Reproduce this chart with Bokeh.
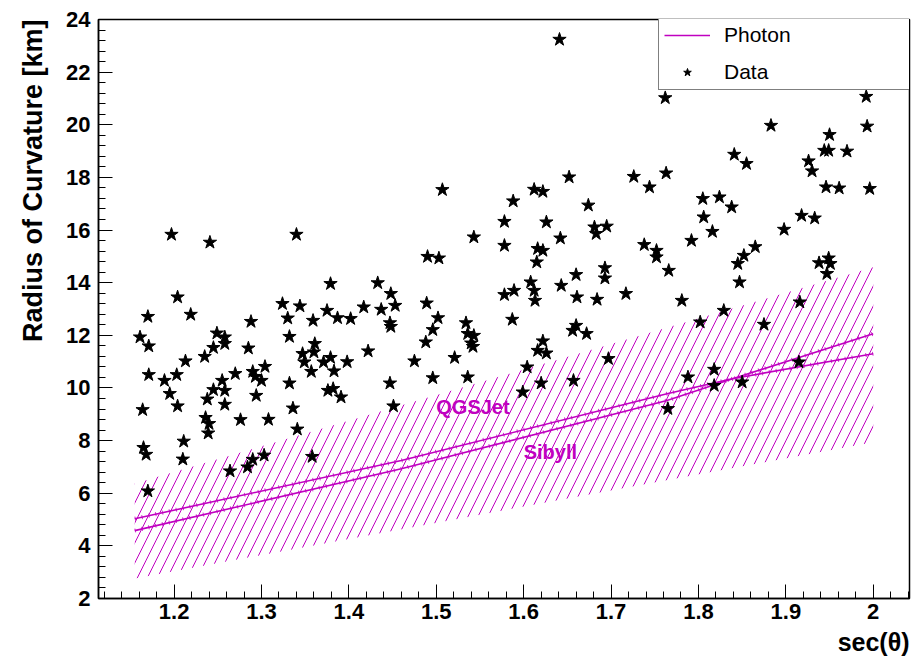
from bokeh.embed import file_html
from bokeh.models import FixedTicker, Label, Legend, LegendItem, Range1d, Title
from bokeh.plotting import figure
from bokeh.resources import INLINE

# --- measured showers: sec(theta) and fitted radius of curvature [km] ---
sec_theta = [
    1.507, 1.197, 1.241, 1.340, 1.490, 1.503, 1.543, 1.578, 1.578, 1.578,
    1.204, 1.170, 1.219, 1.161, 1.171, 1.171, 1.189, 1.203, 1.213, 1.195,
    1.204, 1.164, 1.165, 1.168, 1.211, 1.210, 1.249, 1.258, 1.258, 1.245,
    1.235, 1.255, 1.245, 1.258, 1.238, 1.258, 1.270, 1.236, 1.240, 1.239,
    1.276, 1.308, 1.288, 1.285, 1.304, 1.290, 1.293, 1.300, 1.294, 1.264,
    1.284, 1.290, 1.303, 1.358, 1.341, 1.336, 1.332, 1.332, 1.330, 1.324,
    1.344, 1.359, 1.375, 1.387, 1.402, 1.379, 1.417, 1.433, 1.437, 1.448,
    1.453, 1.447, 1.448, 1.361, 1.360, 1.347, 1.349, 1.357, 1.371, 1.379,
    1.383, 1.398, 1.376, 1.382, 1.391, 1.422, 1.447, 1.451, 1.475, 1.489,
    1.502, 1.496, 1.488, 1.496, 1.521, 1.534, 1.536, 1.543, 1.540, 1.542,
    1.536, 1.170,
    1.641, 1.762, 1.992, 1.915, 1.883, 1.993, 1.950, 1.944, 1.949, 1.970,
    1.841, 1.855, 1.926, 1.930, 1.946, 1.961, 1.996, 1.726, 1.744, 1.763,
    1.652, 1.612, 1.622, 1.588, 1.674, 1.626, 1.681, 1.695, 1.683, 1.642,
    1.616, 1.622, 1.615, 1.805, 1.824, 1.838, 1.806, 1.816, 1.792, 1.738,
    1.752, 1.752, 1.766, 1.660, 1.643, 1.661, 1.684, 1.693, 1.693, 1.717,
    1.781, 1.608, 1.612, 1.589, 1.613, 1.865, 1.852, 1.845, 1.847, 1.898,
    1.918, 1.933, 1.938, 1.949, 1.951, 1.947, 1.916, 1.829,
    1.587, 1.802, 1.875, 1.660, 1.656, 1.672, 1.622, 1.616, 1.626, 1.697,
    1.604, 1.620, 1.657, 1.599, 1.788, 1.818, 1.818, 1.850, 1.915, 1.765,
]
radius_km = [
    17.53, 15.83, 15.53, 15.83, 14.99, 14.93, 15.73, 16.32, 15.41, 13.54,
    13.45, 12.71, 12.79, 11.93, 11.59, 10.50, 10.28, 10.50, 11.02, 9.78,
    9.31, 9.17, 7.73, 7.47, 7.97, 7.29, 12.08, 11.93, 11.68, 11.53,
    11.19, 10.28, 9.93, 9.90, 9.57, 9.37, 10.54, 8.87, 8.64, 8.28,
    8.79, 8.80, 12.52, 11.51, 10.81, 10.62, 10.43, 10.28, 9.71, 6.84,
    6.99, 7.28, 7.44, 7.39, 8.43, 9.23, 10.18, 11.95, 12.65, 13.20,
    13.11, 12.56, 12.94, 12.66, 12.63, 13.96, 13.07, 13.99, 12.98, 13.58,
    13.13, 12.47, 12.33, 11.68, 11.36, 11.30, 10.98, 10.62, 10.98, 11.15,
    10.64, 10.99, 9.90, 9.97, 9.65, 11.40, 10.18, 9.31, 11.02, 13.22,
    12.66, 12.21, 11.74, 10.38, 11.15, 12.47, 12.06, 11.99, 11.70, 11.57,
    10.41, 6.08,
    23.24, 21.02, 21.07, 24.00, 19.97, 19.94, 19.62, 19.02, 19.02, 18.99,
    18.87, 18.52, 18.62, 18.24, 17.63, 17.59, 17.57, 18.03, 17.63, 18.16,
    18.01, 17.54, 17.46, 17.10, 16.94, 16.30, 16.11, 16.14, 15.86, 15.69,
    15.29, 15.22, 14.78, 17.19, 17.25, 16.87, 16.49, 15.94, 15.60, 15.44,
    15.22, 14.97, 14.46, 14.30, 13.89, 13.45, 13.36, 14.56, 14.17, 13.58,
    13.32, 14.02, 13.70, 13.70, 13.32, 15.36, 15.03, 14.72, 14.02, 16.02,
    16.55, 16.45, 14.75, 14.93, 14.72, 14.34, 13.26, 12.94,
    12.60, 12.50, 12.41, 12.37, 12.18, 12.06, 11.78, 11.42, 11.32, 11.11,
    10.79, 10.18, 10.28, 9.84, 10.41, 10.70, 10.09, 10.22, 10.98, 9.21,
]

# --- photon expectation for two hadronic interaction models ---
photon_sec = [1.155, 1.46, 1.764, 1.84, 2.0]
photon_qgsjet = [5.03, 7.24, 9.78, 10.36, 11.30]
photon_sibyll = [4.58, 6.93, 9.52, 10.36, 12.06]

# spread of the photon expectation (hatched band)
band_sec = [1.155, 2.0]
band_low = [2.76, 7.94]
band_high = [6.37, 14.59]

x_major = [1.2, 1.3, 1.4, 1.5, 1.6, 1.7, 1.8, 1.9, 2.0]
y_major = [2, 4, 6, 8, 10, 12, 14, 16, 18, 20, 22, 24]

MAGENTA = "#c000c0"
FONT = "Liberation Sans"

p = figure(
    width=920, height=659,
    output_backend="svg", toolbar_location=None,
    x_range=Range1d(1.1135, 2.0415), y_range=Range1d(2, 24),
    min_border_left=97, min_border_right=11,
    min_border_top=19, min_border_bottom=61,
)
p.background_fill_color = "white"
p.border_fill_color = "white"
p.outline_line_color = "black"
p.outline_line_width = 1.5
p.xgrid.visible = False
p.ygrid.visible = False

x_minor = [round(1.12 + 0.02 * i, 2) for i in range(47)]
y_minor = [round(2 + 0.4 * i, 1) for i in range(56)]
p.xaxis.ticker = FixedTicker(ticks=x_major, minor_ticks=x_minor)
p.yaxis.ticker = FixedTicker(ticks=y_major, minor_ticks=y_minor)
p.xaxis.major_label_overrides = {2: "2"}

for ax in (p.xaxis[0], p.yaxis[0]):
    ax.major_tick_in = 14
    ax.major_tick_out = 0
    ax.minor_tick_in = 7
    ax.minor_tick_out = 0
    ax.axis_line_width = 1.5
    ax.major_tick_line_width = 1
    ax.minor_tick_line_width = 1
    ax.major_label_text_font = FONT
    ax.major_label_text_font_style = "bold"
    ax.major_label_text_font_size = "22px"
    ax.major_label_text_color = "black"
p.yaxis.major_label_standoff = 8
p.xaxis.major_label_standoff = 5

# hatched expectation band
p.varea(x=band_sec, y1=band_low, y2=band_high,
        fill_color=None, fill_alpha=0,
        hatch_pattern="/", hatch_color=MAGENTA, hatch_scale=20,
        hatch_weight=1)

# photon curves: thin line with small cross-ticks along it
r_qgs = p.line(photon_sec, photon_qgsjet, line_color=MAGENTA, line_width=1.6)
r_sib = p.line(photon_sec, photon_sibyll, line_color=MAGENTA, line_width=1.6)
for curve in (photon_qgsjet, photon_sibyll):
    p.line(photon_sec, curve, line_color=MAGENTA, line_width=4,
           line_dash="1 6", line_alpha=0.8)

r_data = p.scatter(sec_theta, radius_km, marker="star", size=14,
                   fill_color="black", line_color="black")

p.add_layout(Label(x=1.50, y=9.27, text="QGSJet", text_color=MAGENTA,
                   text_font=FONT, text_font_style="bold",
                   text_font_size="20px", text_baseline="middle"))
p.add_layout(Label(x=1.60, y=7.56, text="Sibyll", text_color=MAGENTA,
                   text_font=FONT, text_font_style="bold",
                   text_font_size="20px", text_baseline="middle"))

# axis titles, aligned to the far end of each axis
p.add_layout(Title(text="Radius of Curvature [km]", align="right",
                   text_font=FONT, text_font_style="bold",
                   text_font_size="27px", text_color="black",
                   standoff=31), "left")
p.add_layout(Title(text="sec(θ)", align="right",
                   text_font=FONT, text_font_style="bold",
                   text_font_size="25px", text_color="black",
                   standoff=8), "below")

legend = Legend(
    items=[LegendItem(label="Photon", renderers=[r_qgs]),
           LegendItem(label="Data", renderers=[r_data])],
    location=(560, 508),
    border_line_color="black", border_line_width=1.5,
    background_fill_color="white", background_fill_alpha=1,
    label_text_font=FONT, label_text_font_size="21px",
    label_text_color="black",
    glyph_width=46, glyph_height=20, label_standoff=14,
    label_width=183, label_height=24,
    padding=5, spacing=13, margin=0,
)
p.add_layout(legend)

open("out.html", "w").write(file_html(p, INLINE))
